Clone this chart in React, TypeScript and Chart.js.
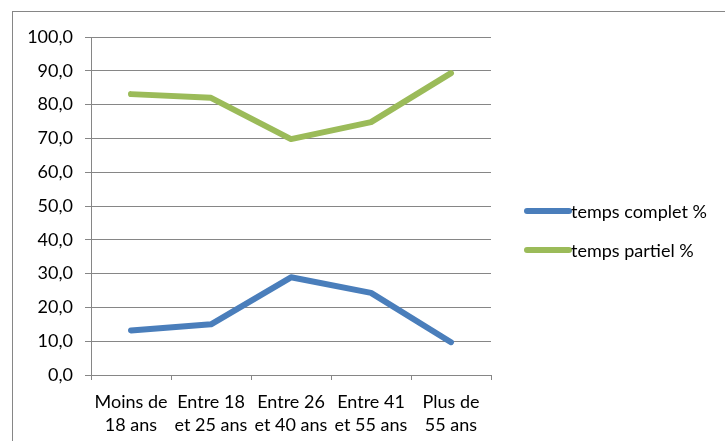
import React, { useEffect, useRef } from "react";
import { Chart, registerables } from "chart.js";

Chart.register(...registerables);

const categories: string[][] = [
  ["Moins de", "18 ans"],
  ["Entre 18", "et 25 ans"],
  ["Entre 26", "et 40 ans"],
  ["Entre 41", "et 55 ans"],
  ["Plus de", "55 ans"],
];
const tempsComplet = [13.2, 15.0, 28.9, 24.3, 9.7];
const tempsPartiel = [83.1, 82.0, 69.8, 74.8, 89.3];
const seriesNames = ["temps complet %", "temps partiel %"];
const seriesColors = ["#4A7EBB", "#9BBB59"];

const FONT = "Lato, 'Open Sans', sans-serif";
const GRID = "#868686";

// Outer frame and the right-hand legend, drawn on the canvas
const framePlugin = {
  id: "frameAndLegend",
  beforeDraw(chart: Chart) {
    const ctx = chart.ctx;
    ctx.save();
    ctx.fillStyle = "#ffffff";
    ctx.fillRect(0, 0, chart.width, chart.height);
    ctx.strokeStyle = GRID;
    ctx.lineWidth = 1;
    ctx.strokeRect(12.5, 11.5, chart.width + 10, chart.height + 10);
    ctx.restore();
  },
  afterDraw(chart: Chart) {
    const ctx = chart.ctx;
    ctx.save();
    const x0 = 527;
    const x1 = 569;
    const ys = [211, 250];
    seriesNames.forEach((name, i) => {
      ctx.strokeStyle = seriesColors[i];
      ctx.lineWidth = 6;
      ctx.lineCap = "round";
      ctx.beginPath();
      ctx.moveTo(x0, ys[i]);
      ctx.lineTo(x1, ys[i]);
      ctx.stroke();
      ctx.fillStyle = "#000000";
      ctx.font = `18px ${FONT}`;
      ctx.textBaseline = "middle";
      ctx.textAlign = "left";
      ctx.fillText(name, 571, ys[i] + 1);
    });
    ctx.restore();
  },
};

export default function App() {
  const ref = useRef<HTMLCanvasElement | null>(null);

  useEffect(() => {
    document.body.style.margin = "0";
    const canvas = ref.current;
    if (!canvas) return;
    const chart = new Chart(canvas, {
      type: "line",
      data: {
        labels: categories,
        datasets: [
          {
            label: seriesNames[0],
            data: tempsComplet,
            borderColor: seriesColors[0],
            backgroundColor: seriesColors[0],
            borderWidth: 6,
            borderCapStyle: "round",
            borderJoinStyle: "round",
            pointRadius: 0,
            tension: 0,
          },
          {
            label: seriesNames[1],
            data: tempsPartiel,
            borderColor: seriesColors[1],
            backgroundColor: seriesColors[1],
            borderWidth: 6,
            borderCapStyle: "round",
            borderJoinStyle: "round",
            pointRadius: 0,
            tension: 0,
          },
        ],
      },
      options: {
        animation: false,
        responsive: false,
        layout: { padding: { left: 0, right: 234, top: 37, bottom: 0 } },
        plugins: {
          legend: { display: false },
          tooltip: { enabled: false },
        },
        scales: {
          x: {
            offset: true,
            grid: {
              offset: true,
              drawOnChartArea: false,
              drawTicks: true,
              tickLength: 5,
              color: GRID,
            },
            border: { color: GRID, width: 1 },
            ticks: {
              color: "#000000",
              font: { family: FONT, size: 18, lineHeight: 1.28 },
              padding: 11,
              maxRotation: 0,
              autoSkip: false,
            },
            afterFit(scale: any) {
              scale.height = 66;
            },
          },
          y: {
            min: 0,
            max: 100,
            ticks: {
              stepSize: 10,
              color: "#000000",
              font: { family: FONT, size: 18 },
              padding: 12,
              callback: (v: any) => Number(v).toFixed(1).replace(".", ","),
            },
            grid: { color: GRID, tickLength: 6, lineWidth: 1 },
            border: { color: GRID, width: 1 },
            afterFit(scale: any) {
              scale.width = 91;
            },
          },
        },
      },
      plugins: [framePlugin],
    });
    return () => chart.destroy();
  }, []);

  return (
    <div style={{ position: "absolute", left: 0, top: 0, width: 725, height: 441 }}>
      <canvas ref={ref} width={725} height={441} />
    </div>
  );
}
